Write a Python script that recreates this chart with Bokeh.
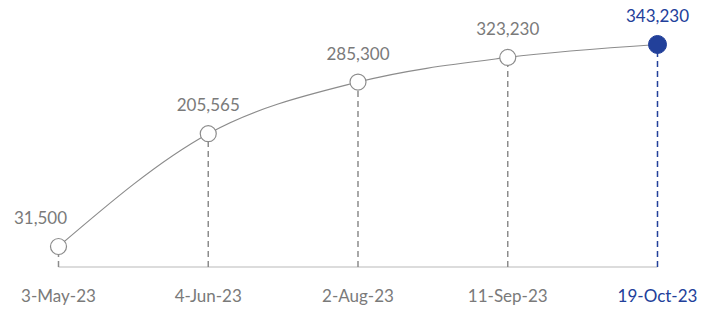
from bokeh.plotting import figure
from bokeh.models import Range1d, ColumnDataSource
from bokeh.core.properties import value
from bokeh.embed import file_html
from bokeh.resources import INLINE

dates = ["3-May-23", "4-Jun-23", "2-Aug-23", "11-Sep-23", "19-Oct-23"]
values = [31500, 205565, 285300, 323230, 343230]

GRAY = "#7a7a7a"
LINE_GRAY = "#8c8c8c"
BLUE = "#22409a"
FONT = value("Lato")

xs = list(range(len(values)))

p = figure(width=712, height=309, output_backend="svg", toolbar_location=None,
           min_border=0, x_range=Range1d(-0.3873, 4.3673), y_range=Range1d(-65722, 411131))
p.outline_line_color = None
p.xaxis.visible = False
p.yaxis.visible = False
p.xgrid.visible = False
p.ygrid.visible = False
p.background_fill_color = None
p.border_fill_color = None

# baseline
p.segment(x0=[xs[0]], y0=[0], x1=[xs[-1]], y1=[0], line_color="#d0d0d0", line_width=1.5)

# dashed drops
colors = [LINE_GRAY] * (len(values) - 1) + [BLUE]
p.segment(x0=xs, y0=[0] * len(xs), x1=xs, y1=values, line_color=colors,
          line_width=1.5, line_dash="6 4")

# monotone X curve (d3 style)
n = len(values)
def sign(v):
    return (v > 0) - (v < 0)
t = [0.0] * n
for i in range(1, n - 1):
    s0 = (values[i] - values[i - 1]) / (xs[i] - xs[i - 1])
    s1 = (values[i + 1] - values[i]) / (xs[i + 1] - xs[i])
    pp = (s0 * (xs[i + 1] - xs[i]) + s1 * (xs[i] - xs[i - 1])) / (xs[i + 1] - xs[i - 1])
    t[i] = (sign(s0) + sign(s1)) * min(abs(s0), abs(s1), 0.5 * abs(pp))
t[0] = (3 * (values[1] - values[0]) / (xs[1] - xs[0]) - t[1]) / 2
t[-1] = (3 * (values[-1] - values[-2]) / (xs[-1] - xs[-2]) - t[-2]) / 2
bx0, by0, bx1, by1, cx0, cy0, cx1, cy1 = [], [], [], [], [], [], [], []
for i in range(n - 1):
    dx = (xs[i + 1] - xs[i]) / 3
    bx0.append(xs[i]); by0.append(values[i])
    bx1.append(xs[i + 1]); by1.append(values[i + 1])
    cx0.append(xs[i] + dx); cy0.append(values[i] + dx * t[i])
    cx1.append(xs[i + 1] - dx); cy1.append(values[i + 1] - dx * t[i + 1])
p.bezier(x0=bx0, y0=by0, x1=bx1, y1=by1, cx0=cx0, cy0=cy0, cx1=cx1, cy1=cy1,
         line_color=LINE_GRAY, line_width=1.2)

# markers
p.scatter(xs[:-1], values[:-1], size=16, fill_color="white", line_color=LINE_GRAY, line_width=1.2)
p.scatter(xs[-1:], values[-1:], size=18, fill_color=BLUE, line_color=BLUE)

# value labels
labels = [f"{v:,}" for v in values]
xoff = [-18] + [0] * (n - 1)
src = ColumnDataSource(dict(x=xs, y=values, text=labels, color=[GRAY] * (n - 1) + [BLUE], xo=xoff))
p.text(x="x", y="y", text="text", text_color="color", x_offset="xo", y_offset=-29,
       text_align="center", text_baseline="middle", text_font=FONT,
       text_font_size="17px", source=src)

# category labels
src2 = ColumnDataSource(dict(x=xs, y=[0] * n, text=dates, color=[GRAY] * (n - 1) + [BLUE]))
p.text(x="x", y="y", text="text", text_color="color", y_offset=29,
       text_align="center", text_baseline="middle", text_font=FONT,
       text_font_size="17px", source=src2)

open("out.html", "w").write(file_html(p, INLINE))
